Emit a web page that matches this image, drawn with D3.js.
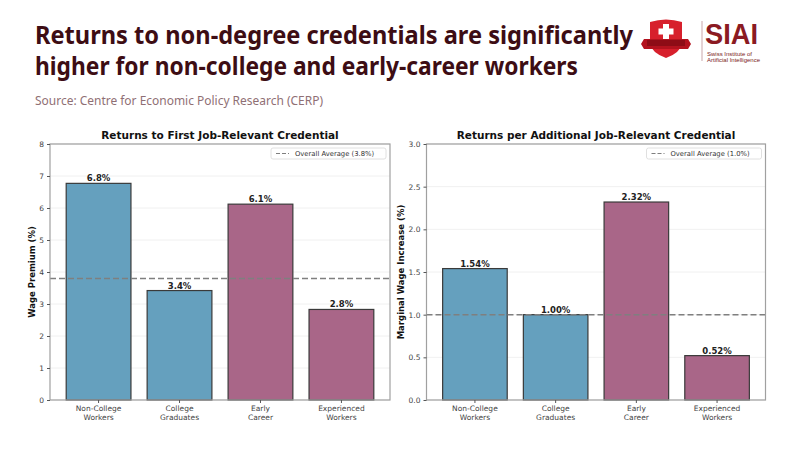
<!DOCTYPE html>
<html><head><meta charset="utf-8">
<script src="https://cdn.jsdelivr.net/npm/d3@7"></script>
<style>body{margin:0;background:#fff}svg{display:block}</style>
</head><body>
<script>
const categories = ["Non-College\nWorkers","College\nGraduates","Early\nCareer","Experienced\nWorkers"];
const groups = ["blue","blue","pink","pink"];
const firstValues = [6.77, 3.42, 6.12, 2.83];
const firstLabels = ["6.8%","3.4%","6.1%","2.8%"];
const firstAvg = 3.8;
const firstTicks = [0,1,2,3,4,5,6,7,8];
const addValues = [1.54, 1.00, 2.32, 0.52];
const addLabels = ["1.54%","1.00%","2.32%","0.52%"];
const addAvg = 1.0;
const addTicks = [0,0.5,1.0,1.5,2.0,2.5,3.0];

const W=800,H=450;
const svg=d3.select("body").append("svg").attr("width",W).attr("height",H);
const colors={blue:"#65a0be",pink:"#a96688"};
const titleColor="#3d0d14";

// Title
const t=svg.append("g").attr("font-family","'Noto Sans',sans-serif").attr("font-weight",700).attr("fill",titleColor);
t.append("text").attr("x",35).attr("y",44).attr("font-size",25).attr("textLength",598).attr("lengthAdjust","spacingAndGlyphs").text("Returns to non-degree credentials are significantly");
t.append("text").attr("x",35).attr("y",75).attr("font-size",25).attr("textLength",543).attr("lengthAdjust","spacingAndGlyphs").text("higher for non-college and early-career workers");
svg.append("text").attr("x",35).attr("y",105).attr("font-family","'Noto Sans',sans-serif").attr("font-size",12.5)
  .attr("fill","#8f6f74").attr("textLength",288).attr("lengthAdjust","spacingAndGlyphs").text("Source: Centre for Economic Policy Research (CERP)");

// Logo
const lg=svg.append("g");
lg.append("path").attr("d","M650,22 Q666,17 682,22 L682,44 Q680,53 666,58 Q652,53 650,44 Z").attr("fill","#d7202c");
lg.append("path").attr("d","M644,39 L688,39 L691,44 L688,49 L644,49 L641,44 Z").attr("fill","#b3121e");
lg.append("rect").attr("x",647).attr("y",40).attr("width",38).attr("height",6).attr("fill","#8e0c16");
lg.append("rect").attr("x",663).attr("y",24).attr("width",6).attr("height",15).attr("fill","#fff");
lg.append("rect").attr("x",658.5).attr("y",28.5).attr("width",15).attr("height",6).attr("fill","#fff");
lg.append("line").attr("x1",702).attr("x2",702).attr("y1",21).attr("y2",61).attr("stroke","#c9a7ab").attr("stroke-width",1);
lg.append("text").attr("x",705).attr("y",44).attr("font-family","'Liberation Sans',Arial,sans-serif").attr("font-weight",700).attr("font-size",30)
  .attr("fill","#8b1a22").attr("textLength",53).attr("lengthAdjust","spacingAndGlyphs").text("SIAI");
lg.append("text").attr("x",707).attr("y",56).attr("font-family","'Liberation Sans',Arial,sans-serif").attr("font-size",6)
  .attr("fill","#7a1a22").attr("textLength",45).attr("lengthAdjust","spacingAndGlyphs").text("Swiss Institute of");
lg.append("text").attr("x",707).attr("y",62).attr("font-family","'Liberation Sans',Arial,sans-serif").attr("font-size",6)
  .attr("fill","#7a1a22").attr("textLength",53).attr("lengthAdjust","spacingAndGlyphs").text("Artificial Intelligence");

function panel(o){
  const g=svg.append("g").attr("font-family","'DejaVu Sans',sans-serif");
  const x=d3.scaleBand().domain(categories).range([o.x0,o.x1]).paddingInner(0.2).paddingOuter(0.2);
  const y=d3.scaleLinear().domain([0,o.max]).range([o.y1,o.y0]);
  // grid
  g.append("g").selectAll("line").data(o.ticks).join("line")
    .attr("x1",o.x0).attr("x2",o.x1).attr("y1",d=>y(d)).attr("y2",d=>y(d))
    .attr("stroke","#ececec").attr("stroke-width",0.8);
  // bars
  g.append("g").selectAll("rect").data(o.values).join("rect")
    .attr("x",(d,i)=>x(categories[i])).attr("width",x.bandwidth())
    .attr("y",d=>y(d)).attr("height",d=>y(0)-y(d))
    .attr("fill",(d,i)=>colors[groups[i]]).attr("stroke","#3a3a3a").attr("stroke-width",1.2);
  // value labels
  g.append("g").selectAll("text").data(o.values).join("text")
    .attr("x",(d,i)=>x(categories[i])+x.bandwidth()/2).attr("y",d=>y(d)-2)
    .attr("text-anchor","middle").attr("font-size",8.5).attr("font-weight",700).attr("fill","#222")
    .text((d,i)=>o.labels[i]);
  // avg line
  g.append("line").attr("x1",o.x0).attr("x2",o.x1).attr("y1",y(o.avg)).attr("y2",y(o.avg))
    .attr("stroke","#7f7f7f").attr("stroke-width",1.5).attr("stroke-dasharray","6,3");
  // frame
  g.append("rect").attr("x",o.x0).attr("y",o.y0).attr("width",o.x1-o.x0).attr("height",o.y1-o.y0)
    .attr("fill","none").attr("stroke","#a0a0a0").attr("stroke-width",1.2);
  // y axis
  const ya=g.append("g").attr("transform",`translate(${o.x0},0)`)
    .call(d3.axisLeft(y).tickValues(o.ticks).tickFormat(o.fmt).tickSize(3).tickPadding(3));
  ya.select(".domain").remove();
  ya.selectAll("line").attr("stroke","#555");
  ya.selectAll("text").attr("font-size",7.5).attr("fill","#444").attr("font-family","'DejaVu Sans',sans-serif");
  // x axis
  const xa=g.append("g").attr("transform",`translate(0,${o.y1})`)
    .call(d3.axisBottom(x).tickSize(3).tickFormat(""));
  xa.select(".domain").remove();
  xa.selectAll("line").attr("stroke","#555");
  xa.selectAll(".tick").each(function(d){
    const lines=d.split("\n");
    const tx=d3.select(this).append("text").attr("fill","#444").attr("font-size",7.5).attr("text-anchor","middle")
      .attr("font-family","'DejaVu Sans',sans-serif");
    lines.forEach((l,i)=>tx.append("tspan").attr("x",0).attr("y",11+i*9).text(l));
  });
  // titles
  g.append("text").attr("x",(o.x0+o.x1)/2).attr("y",o.y0-5).attr("text-anchor","middle")
    .attr("font-size",10.5).attr("font-weight",700).attr("fill","#111").text(o.title);
  g.append("text").attr("transform",`translate(${o.ylx},${(o.y0+o.y1)/2}) rotate(-90)`).attr("text-anchor","middle")
    .attr("font-size",8.5).attr("font-weight",700).attr("fill","#111").text(o.ylabel);
  // legend
  const lx=o.x1-119, ly=o.y0+4;
  g.append("rect").attr("x",lx).attr("y",ly).attr("width",115).attr("height",11).attr("rx",2)
    .attr("fill","#fff").attr("stroke","#d8d8d8").attr("stroke-width",0.8);
  g.append("line").attr("x1",lx+5).attr("x2",lx+18).attr("y1",ly+5.5).attr("y2",ly+5.5)
    .attr("stroke","#7f7f7f").attr("stroke-width",1.2).attr("stroke-dasharray","4,2");
  g.append("text").attr("x",lx+24).attr("y",ly+8.3).attr("font-size",6.8).attr("fill","#333").text(o.legend);
}

panel({x0:50,x1:390,y0:144,y1:400,max:8,ticks:firstTicks,fmt:d3.format("d"),values:firstValues,labels:firstLabels,avg:firstAvg,
  title:"Returns to First Job-Relevant Credential",ylabel:"Wage Premium (%)",ylx:35,legend:"Overall Average (3.8%)"});
panel({x0:426.5,x1:765.5,y0:144,y1:400,max:3,ticks:addTicks,fmt:d3.format(".1f"),values:addValues,labels:addLabels,avg:addAvg,
  title:"Returns per Additional Job-Relevant Credential",ylabel:"Marginal Wage Increase (%)",ylx:404,legend:"Overall Average (1.0%)"});
</script>
</body></html>
